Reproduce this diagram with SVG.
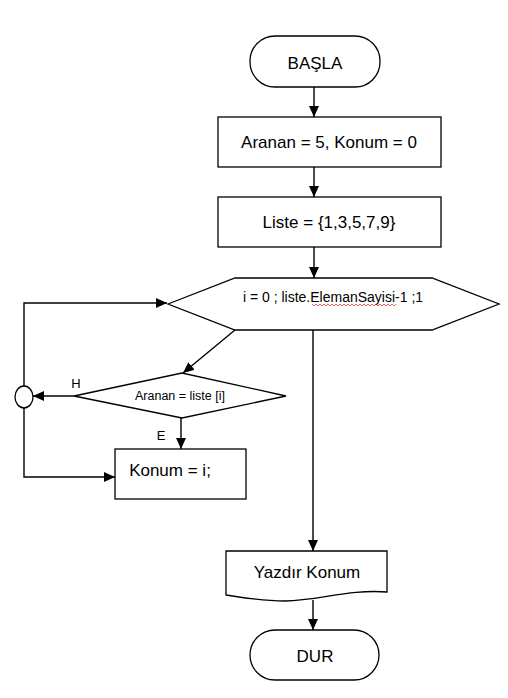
<svg xmlns="http://www.w3.org/2000/svg" width="508" height="698" viewBox="0 0 508 698">
<defs>
<marker id="arr" markerUnits="userSpaceOnUse" markerWidth="11" markerHeight="10" refX="11" refY="5" orient="auto">
<path d="M0,0 L11,5 L0,10 z" fill="#000"/>
</marker>
<style>
.s{fill:#fff;stroke:#000;stroke-width:1.3}
.c{fill:none;stroke:#000;stroke-width:1.4}
.t{font-family:"Liberation Sans",Arial,sans-serif;fill:#000;text-anchor:middle}
</style>
</defs>
<rect width="508" height="698" fill="#fff"/>
<g id="connectors">
<line class="c" x1="314" y1="87" x2="314" y2="117" marker-end="url(#arr)"/>
<line class="c" x1="314" y1="167" x2="314" y2="197" marker-end="url(#arr)"/>
<line class="c" x1="314" y1="247" x2="314" y2="278" marker-end="url(#arr)"/>
<line class="c" x1="313" y1="330" x2="313" y2="551" marker-end="url(#arr)"/>
<line class="c" x1="313" y1="600" x2="313" y2="630" marker-end="url(#arr)"/>
<line class="c" x1="235" y1="330" x2="183" y2="373" marker-end="url(#arr)"/>
<line class="c" x1="74" y1="396" x2="33" y2="396" marker-end="url(#arr)"/>
<line class="c" x1="181" y1="418" x2="181" y2="449" marker-end="url(#arr)"/>
<polyline class="c" points="24,386 24,303 167,303" marker-end="url(#arr)"/>
<polyline class="c" points="24,408 24,477 115,477" marker-end="url(#arr)"/>
<text class="t" x="76" y="388" font-size="13">H</text>
<text class="t" x="161" y="440" font-size="13">E</text>
</g>
<g id="start">
<rect class="s" x="250" y="36" width="130" height="51" rx="25"/>
<text class="t" x="315" y="69" font-size="17">BAŞLA</text>
</g>
<g id="init">
<rect class="s" x="218" y="117" width="223" height="50"/>
<text class="t" x="329" y="148" font-size="17">Aranan = 5, Konum = 0</text>
</g>
<g id="list">
<rect class="s" x="218" y="197" width="223" height="50"/>
<text class="t" x="329" y="228" font-size="17">Liste = {1,3,5,7,9}</text>
</g>
<g id="loop">
<polygon class="s" points="168,304 235,278 432,278 499,304 432,330 235,330"/>
<text class="t" x="333" y="302" font-size="14">i = 0 ; liste.ElemanSayisi-1 ;1</text>
<polyline points="312,304 314,306 316,304 318,306 320,304 322,306 324,304 326,306 328,304 330,306 332,304 334,306 336,304 338,306 340,304 342,306 344,304 346,306 348,304 350,306 352,304 354,306 356,304 358,306 360,304 362,306 364,304 366,306 368,304 370,306 372,304 374,306 376,304 378,306 380,304 382,306 384,304 386,306 388,304 390,306 392,304 394,306 396,304" fill="none" stroke="#d22" stroke-width="0.7"/>
</g>
<g id="merge">
<ellipse class="s" cx="24" cy="397" rx="9" ry="11"/>
</g>
<g id="decision">
<polygon class="s" points="74,396 182,373 286,396 182,418"/>
<text class="t" x="180" y="400" font-size="12.5">Aranan = liste [i]</text>
</g>
<g id="assign">
<rect class="s" x="115" y="449" width="131" height="50"/>
<text class="t" x="170" y="476" font-size="17">Konum = i;</text>
</g>
<g id="print">
<path class="s" d="M226,551 H387 V592 C350,589 320,600 285,601 C260,601 240,597 226,595 Z"/>
<text class="t" x="307" y="578" font-size="17">Yazdır Konum</text>
</g>
<g id="end">
<rect class="s" x="250" y="630" width="129" height="50" rx="25"/>
<text class="t" x="315" y="662" font-size="17">DUR</text>
</g>
</svg>
